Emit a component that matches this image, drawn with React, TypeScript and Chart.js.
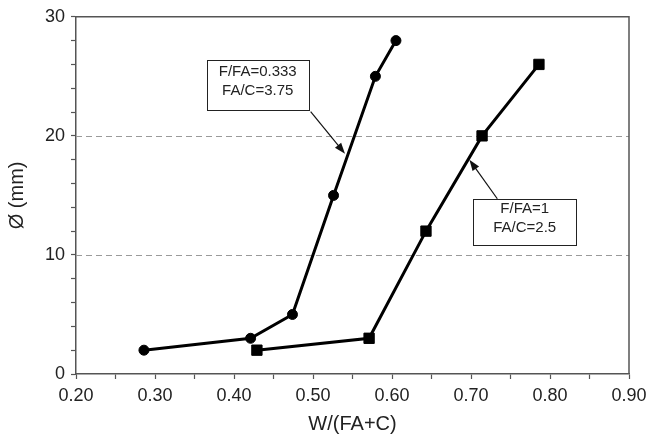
import React, { useEffect, useRef } from 'react';
import { Chart, registerables } from 'chart.js';

Chart.register(...registerables);

const FONT = "'Liberation Sans', Arial, Helvetica, sans-serif";

// Series 1: F/FA=0.333, FA/C=3.75 (circles)
const circleX = [0.286, 0.421, 0.474, 0.526, 0.579, 0.605];
const circleY = [2, 3, 5, 15, 25, 28];

// Series 2: F/FA=1, FA/C=2.5 (squares)
const squareX = [0.429, 0.571, 0.643, 0.714, 0.786];
const squareY = [2, 3, 12, 20, 26];

// Axis ranges / ticks
const xRange = [0.2, 0.9];
const xStep = 0.05;
const yRange = [0, 30];
const yStep = 2;
const yLabelEvery = 10;
const dashedGridAt = [10, 20];

const xTitle = 'W/(FA+C)';
const yTitle = 'Ø (mm)';

// Annotation callouts (data coordinates)
const noteLines1 = ['F/FA=0.333', 'FA/C=3.75'];
const noteLines2 = ['F/FA=1', 'FA/C=2.5'];
const noteCenter1 = [0.430, 24.3];
const noteCenter2 = [0.768, 12.8];
const arrowTail1 = [0.497, 22.04];
const arrowHead1 = [0.5405, 18.5];
const arrowTail2 = [0.7333, 14.72];
const arrowHead2 = [0.698, 17.99];

const notes = [
  { lines: noteLines1, center: noteCenter1, tail: arrowTail1, head: arrowHead1, w: 102, h: 50 },
  { lines: noteLines2, center: noteCenter2, tail: arrowTail2, head: arrowHead2, w: 103, h: 46 },
];

const overlayPlugin = {
  id: 'overlay',
  beforeDatasetsDraw(chart: any) {
    const { ctx, chartArea: a, scales } = chart;
    const y = scales.y;
    ctx.save();
    ctx.strokeStyle = '#9a9a9a';
    ctx.lineWidth = 1;
    ctx.setLineDash([6, 4]);
    for (const v of dashedGridAt) {
      const py = Math.round(y.getPixelForValue(v)) + 0.5;
      ctx.beginPath();
      ctx.moveTo(a.left, py);
      ctx.lineTo(a.right, py);
      ctx.stroke();
    }
    ctx.setLineDash([]);
    ctx.strokeStyle = '#555';
    ctx.lineWidth = 1.5;
    ctx.beginPath();
    ctx.moveTo(a.left, a.top);
    ctx.lineTo(a.right, a.top);
    ctx.lineTo(a.right, a.bottom);
    ctx.stroke();
    ctx.restore();
  },
  afterDatasetsDraw(chart: any) {
    const { ctx, scales } = chart;
    const x = scales.x;
    const y = scales.y;
    ctx.save();
    for (const n of notes) {
      // arrow
      const tx = x.getPixelForValue(n.tail[0]);
      const ty = y.getPixelForValue(n.tail[1]);
      const hx = x.getPixelForValue(n.head[0]);
      const hy = y.getPixelForValue(n.head[1]);
      const ang = Math.atan2(hy - ty, hx - tx);
      const L = 11;
      const W = 4;
      ctx.strokeStyle = '#111';
      ctx.fillStyle = '#111';
      ctx.lineWidth = 1.2;
      ctx.beginPath();
      ctx.moveTo(tx, ty);
      ctx.lineTo(hx - Math.cos(ang) * L * 0.8, hy - Math.sin(ang) * L * 0.8);
      ctx.stroke();
      ctx.beginPath();
      ctx.moveTo(hx, hy);
      ctx.lineTo(hx - Math.cos(ang) * L - Math.sin(ang) * W, hy - Math.sin(ang) * L + Math.cos(ang) * W);
      ctx.lineTo(hx - Math.cos(ang) * L + Math.sin(ang) * W, hy - Math.sin(ang) * L - Math.cos(ang) * W);
      ctx.closePath();
      ctx.fill();

      // box
      const cx = x.getPixelForValue(n.center[0]);
      const cy = y.getPixelForValue(n.center[1]);
      const bx = Math.round(cx - n.w / 2) + 0.5;
      const by = Math.round(cy - n.h / 2) + 0.5;
      ctx.fillStyle = '#fff';
      ctx.fillRect(bx, by, n.w, n.h);
      ctx.strokeStyle = '#222';
      ctx.lineWidth = 1;
      ctx.strokeRect(bx, by, n.w, n.h);
      ctx.fillStyle = '#222';
      ctx.font = `15px ${FONT}`;
      ctx.textAlign = 'center';
      ctx.textBaseline = 'middle';
      const lh = 19;
      n.lines.forEach((t: string, i: number) => {
        ctx.fillText(t, cx, cy - 3 + (i - (n.lines.length - 1) / 2) * lh);
      });
    }
    ctx.restore();
  },
};

export default function App() {
  const ref = useRef<HTMLCanvasElement | null>(null);

  useEffect(() => {
    if (!ref.current) return;
    const chart = new Chart(ref.current, {
      type: 'scatter',
      data: {
        datasets: [
          {
            label: 'F/FA=0.333 FA/C=3.75',
            data: circleX.map((v, i) => ({ x: v, y: circleY[i] })),
            showLine: true,
            borderColor: '#000',
            backgroundColor: '#000',
            borderWidth: 3,
            pointStyle: 'circle',
            pointRadius: 5,
            pointBorderWidth: 1,
            pointBackgroundColor: '#000',
            pointBorderColor: '#000',
          },
          {
            label: 'F/FA=1 FA/C=2.5',
            data: squareX.map((v, i) => ({ x: v, y: squareY[i] })),
            showLine: true,
            borderColor: '#000',
            backgroundColor: '#000',
            borderWidth: 3,
            pointStyle: 'rect',
            pointRadius: 7.3,
            pointBorderWidth: 1,
            pointBackgroundColor: '#000',
            pointBorderColor: '#000',
          },
        ],
      },
      options: {
        responsive: true,
        maintainAspectRatio: false,
        animation: false,
        layout: { padding: { top: 16, right: 24, left: 0, bottom: 0 } },
        plugins: {
          legend: { display: false },
          tooltip: { enabled: false },
        },
        scales: {
          x: {
            type: 'linear',
            min: xRange[0],
            max: xRange[1],
            afterFit: (s: any) => {
              s.height = 65;
            },
            ticks: {
              stepSize: xStep,
              autoSkip: false,
              maxRotation: 0,
              padding: 6,
              color: '#222',
              font: { family: FONT, size: 18 },
              callback: (v: any) => {
                const n = Number(v);
                return Math.abs(n * 10 - Math.round(n * 10)) < 1e-6 ? n.toFixed(2) : '';
              },
            },
            grid: {
              display: true,
              drawOnChartArea: false,
              drawTicks: true,
              tickLength: 5,
              tickColor: '#555',
              tickWidth: 1.2,
            },
            border: { display: true, color: '#555', width: 1.5 },
            title: {
              display: true,
              text: xTitle,
              color: '#222',
              font: { family: FONT, size: 20 },
              padding: { top: 0, bottom: 3 },
            },
          },
          y: {
            type: 'linear',
            min: yRange[0],
            max: yRange[1],
            afterFit: (s: any) => {
              s.width = 76;
            },
            ticks: {
              stepSize: yStep,
              autoSkip: false,
              padding: 6,
              color: '#222',
              font: { family: FONT, size: 18 },
              callback: (v: any) => {
                const n = Number(v);
                return Math.round(n) % yLabelEvery === 0 ? String(Math.round(n)) : '';
              },
            },
            grid: {
              display: true,
              drawOnChartArea: false,
              drawTicks: true,
              tickLength: 5,
              tickColor: '#555',
              tickWidth: 1.2,
            },
            border: { display: true, color: '#555', width: 1.5 },
            title: {
              display: true,
              text: yTitle,
              color: '#222',
              font: { family: FONT, size: 20 },
              padding: { top: 5, bottom: 0 },
            },
          },
        },
      },
      plugins: [overlayPlugin],
    });
    return () => chart.destroy();
  }, []);

  return (
    <div style={{ position: 'absolute', left: 0, top: 0, width: 653, height: 439, background: '#fff' }}>
      <canvas ref={ref} />
    </div>
  );
}
